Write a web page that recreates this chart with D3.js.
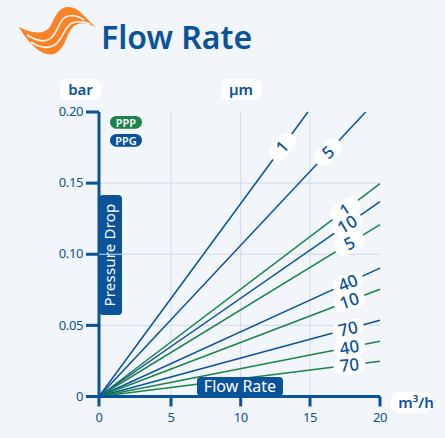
<!DOCTYPE html>
<html><head><meta charset="utf-8">
<style>html,body{margin:0;padding:0;background:#f2f5f9}svg{display:block}text{font-family:"Noto Sans",sans-serif}</style>
<script src="https://cdn.jsdelivr.net/npm/d3@7/dist/d3.min.js"></script></head><body>
<script>
const xTicks=[0,5,10,15,20];
const yTicks=[0,0.05,0.10,0.15,0.20];
const yTickLabels=["0","0.05","0.10","0.15","0.20"];
const seriesLabels=["1","5","1","10","5","40","10","70","40","70"];
const seriesKinds=["PPG","PPG","PPP","PPG","PPP","PPG","PPP","PPG","PPP","PPP"];
const endX=[14.87,18.98,20,20,20,20,20,20,20,20];
const endY=[0.2,0.2,0.1497,0.137,0.1208,0.0902,0.0754,0.0536,0.0388,0.0248];
const labelX=[13.05,16.3,17.52,17.67,17.82,17.72,17.82,17.72,17.82,17.82];
const W=445,H=438,blue="#0a5299",green="#1a8449",grid="#d3d9ea",bg="#f2f5f9";
const x=d3.scaleLinear().domain([0,20]).range([99,380]);
const xAxisScale=d3.scaleLinear().domain(xTicks).range([99,171,240.7,310,380]);
const y=d3.scaleLinear().domain([0,0.2]).range([396.5,112]);
const svg=d3.select("body").append("svg").attr("width",W).attr("height",H);
svg.append("rect").attr("width",W).attr("height",H).attr("fill",bg);
// logo
svg.append("path").attr("fill","#f98427").attr("d","M19 27C30 33 43 35 49 28C55 20 56 8 68 7C80 7 84 18 96 27C88 23 79 21 73 27C66 34 66 47 56 53C45 59 30 46 19 27Z");
["M27 35C35 40 44 44 51 38C59 31 59 18 68 16C74 15 80 17 84 20","M31 42C38 47 48 50 56 44C64 37 64 27 72 23C78 21 85 22 90 24"].forEach(d=>
  svg.append("path").attr("d",d).attr("fill","none").attr("stroke",bg).attr("stroke-width",1.6));
svg.append("text").attr("x",101).attr("y",49).attr("font-size",32).attr("font-weight",600).attr("fill",blue).text("Flow Rate");
// grid
const g=svg.append("g").attr("stroke",grid).attr("stroke-width",1);
xTicks.slice(1,4).forEach(t=>g.append("line").attr("x1",xAxisScale(t)).attr("x2",xAxisScale(t)).attr("y1",y(0.2)).attr("y2",y(0)));
yTicks.slice(1,4).forEach(t=>g.append("line").attr("x1",x(0)).attr("x2",x(20)).attr("y1",y(t)).attr("y2",y(t)));
// series
const sg=svg.append("g");
seriesLabels.forEach((s,i)=>{
  sg.append("line").attr("x1",x(0)).attr("y1",y(0)).attr("x2",x(endX[i])).attr("y2",y(endY[i]))
    .attr("stroke",seriesKinds[i]==="PPG"?blue:green).attr("stroke-width",1.5);
});
// axes
const xAxis=d3.axisBottom(xAxisScale).tickValues(xTicks).tickFormat(d3.format("d")).tickSize(10).tickSizeOuter(0).tickPadding(6).offset(0);
const ax=svg.append("g").attr("transform",`translate(0,${y(0)})`).call(xAxis);
const yAxis=d3.axisLeft(y).tickValues(yTicks).tickFormat((d,i)=>yTickLabels[i]).tickSize(13).tickSizeOuter(0).tickPadding(3).offset(0);
const ay=svg.append("g").attr("transform",`translate(${x(0)},0)`).call(yAxis);
[ax,ay].forEach(a=>{a.select(".domain").attr("stroke",blue).attr("stroke-width",3);
 a.selectAll(".tick line").attr("stroke",blue).attr("stroke-width",3);
 a.selectAll("text").attr("fill",blue).attr("font-size",13).style("font-family",'"Noto Sans",sans-serif').attr("letter-spacing",-0.4);});
// boxes
function rr(px,py,w,h,r,fill){return svg.append("rect").attr("x",px).attr("y",py).attr("width",w).attr("height",h).attr("rx",r).attr("fill",fill);}
rr(99,195,23,120,4,blue);
svg.append("text").attr("transform",`translate(115,255) rotate(-90)`).attr("text-anchor","middle").attr("font-size",15).attr("fill","#fff").attr("letter-spacing",0.2).text("Pressure Drop");
svg.append("line").attr("x1",x(0)).attr("x2",122).attr("y1",y(0.1)).attr("y2",y(0.1)).attr("stroke",grid).attr("stroke-width",1);
rr(197,377,86,19,4,blue);
svg.append("text").attr("x",240).attr("y",392).attr("text-anchor","middle").attr("font-size",16).attr("fill","#fff").text("Flow Rate");
// legend
[["PPP",green,116],["PPG",blue,134]].forEach(([t,c,py])=>{
  rr(110,py,32,12.7,6.3,c);
  svg.append("text").attr("x",126).attr("y",py+10.5).attr("text-anchor","middle").attr("font-size",11).attr("font-weight",600).attr("fill","#fff").text(t);
});
// axis unit labels
[["bar",60,79,41,80.5],["µm",220.5,79,41.5,241],["m³/h",391,392,41,416]].forEach(([t,px,py,w,tx])=>{
  rr(px,py,w,21,7,"#fff");
  svg.append("text").attr("x",tx).attr("y",py+15.5).attr("text-anchor","middle").attr("font-size",15).attr("font-weight",600).attr("fill",blue).text(t);
});
// line labels
seriesLabels.forEach((s,i)=>{
  const lx=x(labelX[i]), ly=y(endY[i]/endX[i]*labelX[i]);
  const ang=Math.atan2(y(endY[i])-y(0),x(endX[i])-x(0))*180/Math.PI*0.9;
  const gg=svg.append("g").attr("transform",`translate(${lx},${ly}) rotate(${ang})`);
  gg.append("rect").attr("x",-16).attr("y",-9).attr("width",32).attr("height",18).attr("rx",8.5).attr("fill","#fff");
  gg.append("text").attr("text-anchor","middle").attr("y",6).attr("font-size",17).attr("font-weight",500).attr("fill",blue).text(s);
});
</script></body></html>
